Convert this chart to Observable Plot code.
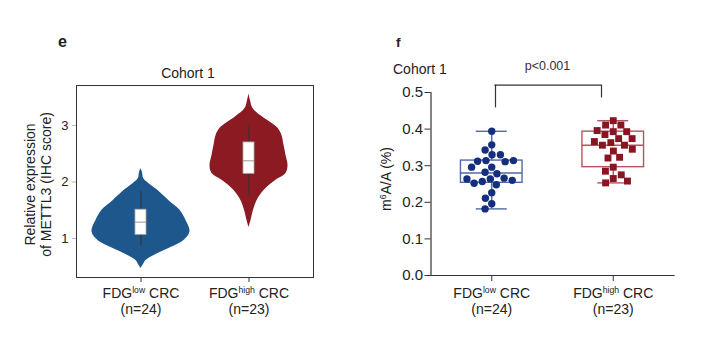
<!DOCTYPE html>
<html>
<head>
<meta charset="utf-8">
<script src="https://cdn.jsdelivr.net/npm/d3@7"></script>
<script src="https://cdn.jsdelivr.net/npm/@observablehq/plot@0.6"></script>
<style>
  html, body { margin: 0; padding: 0; background: #fff; }
  #root { position: relative; width: 714px; height: 344px; background: #fff; overflow: hidden;
          font-family: "Liberation Sans", Arial, sans-serif; color: #222; }
  .lbl { position: absolute; white-space: nowrap; }
  .panel { position: absolute; top: 0; }
</style>
</head>
<body>
<div id="root">
  <div id="pe" class="panel" style="left:0px;"></div>
  <div id="pf" class="panel" style="left:357px;"></div>
  <div class="lbl" style="left:58px; top:34px; font-size:16px; line-height:16px; font-weight:bold;">e</div>
  <div class="lbl" style="left:396px; top:36px; font-size:13.5px; line-height:13.5px; font-weight:bold;">f</div>
  <div class="lbl" style="left:138px; width:100px; text-align:center; top:66px; font-size:14px; line-height:14px;">Cohort 1</div>
  <div class="lbl" style="left:393px; top:62px; font-size:14px; line-height:14px;">Cohort 1</div>
</div>
<script>
// ---------- data ----------
const groups = ["low", "high"];
const groupLabels = ["FDG^{low} CRC", "FDG^{high} CRC"];
const groupN = [24, 23];

// Panel e: violin outlines (value, relative density)
const lowViolinValue   = [2.234, 2.17, 2.06, 1.97, 1.85, 1.67, 1.50, 1.32, 1.12, 0.965, 0.84, 0.735, 0.61, 0.54, 0.47];
const lowViolinDensity = [0, 1.5, 2.7, 8, 17, 28, 39, 45, 49, 43, 30, 17, 5, 2.5, 0];
const highViolinValue   = [3.558, 3.44, 3.30, 3.16, 3.05, 2.95, 2.82, 2.65, 2.47, 2.29, 2.15, 2.03, 1.85, 1.67, 1.50, 1.32, 1.195];
const highViolinDensity = [0, 1.5, 4, 13, 22, 29, 33, 35, 37, 39, 37, 27, 15, 8, 4.5, 2, 0];

// Panel e: inner box plot statistics (min, q1, median, q3, max)
const violinMin    = [0.876, 1.76];
const violinQ1     = [1.065, 2.145];
const violinMedian = [1.29, 2.375];
const violinQ3     = [1.51, 2.70];
const violinMax    = [1.83, 3.0];

// Panel f: individual m6A/A (%) values
const lowValues  = [0.394, 0.357, 0.343, 0.330, 0.330, 0.314, 0.311, 0.312, 0.314, 0.296, 0.296, 0.282,
                    0.278, 0.266, 0.264, 0.257, 0.248, 0.252, 0.260, 0.264, 0.226, 0.211, 0.196, 0.182];
const highValues = [0.423, 0.411, 0.411, 0.393, 0.385, 0.393, 0.396, 0.374, 0.374, 0.363, 0.356, 0.356,
                    0.366, 0.340, 0.345, 0.321, 0.323, 0.296, 0.285, 0.265, 0.275, 0.253, 0.258];

const eTicks = [1, 2, 3];
const fTicks = [0, 0.1, 0.2, 0.3, 0.4, 0.5];
const pLabel = "p<0.001";
const eYLabel = "Relative expression\nof METTL3 (IHC score)";
const fYLabel = "m^{6}A/A (%)";

// ---------- helpers ----------
const FONT = "Liberation Sans, Arial, sans-serif";
const labelOf = g => { const i = groups.indexOf(g); return `${groupLabels[i]}\n(n=${groupN[i]})`; };

function quantileGP(sorted, p) { // (n+1)p method
  const n = sorted.length, pos = (n + 1) * p;
  if (pos <= 1) return sorted[0];
  if (pos >= n) return sorted[n - 1];
  const lo = Math.floor(pos), f = pos - lo;
  return sorted[lo - 1] + f * (sorted[lo] - sorted[lo - 1]);
}

function applySup(root) {
  const ns = "http://www.w3.org/2000/svg";
  root.querySelectorAll("text, tspan").forEach(el => {
    if (el.children.length) return;
    const s = el.textContent;
    if (!s.includes("^{")) return;
    const fs = parseFloat(getComputedStyle(el).fontSize) || 14;
    const parts = s.split(/\^\{([^}]*)\}/);
    el.textContent = "";
    parts.forEach((p, i) => {
      if (i % 2 === 0) {
        if (!p) return;
        if (i === 0) el.append(p);
        else { const t = document.createElementNS(ns, "tspan"); t.setAttribute("dy", (0.42 * fs).toFixed(2)); t.textContent = p; el.append(t); }
      } else {
        const t = document.createElementNS(ns, "tspan");
        t.setAttribute("font-size", (0.62 * fs).toFixed(2));
        t.setAttribute("dy", (-0.42 * fs).toFixed(2));
        t.textContent = p; el.append(t);
      }
    });
  });
}

// ---------- panel e ----------
const violinData = [
  ...lowViolinValue.map((v, i) => ({group: "low", value: v, density: lowViolinDensity[i]})),
  ...highViolinValue.map((v, i) => ({group: "high", value: v, density: highViolinDensity[i]}))
];
const violinStats = groups.map((g, i) => ({group: g, min: violinMin[i], q1: violinQ1[i], median: violinMedian[i], q3: violinQ3[i], max: violinMax[i]}));

const ePadOuter = 0.147, eStep = 108; // outer padding in px = 15.9
const eOut = ePadOuter * eStep;

const pe = Plot.plot({
  width: 357, height: 344,
  marginLeft: 76, marginRight: 44, marginTop: 85, marginBottom: 67,
  style: {fontFamily: FONT, fontSize: "13px", color: "#222", background: "transparent", overflow: "visible"},
  fx: {domain: groups, paddingInner: 0.1, paddingOuter: ePadOuter, round: false, label: null},
  x: {domain: [-48.6, 48.6], axis: null},
  y: {domain: [0.31, 3.708], label: null},
  color: {domain: groups, range: ["#1e578c", "#8b1a23"]},
  marks: [
    Plot.areaX(violinData, {fx: "group", y: "value", x1: d => -d.density, x2: "density", fill: "group", curve: "catmull-rom"}),
    Plot.ruleX(violinStats, {fx: "group", x: 0, y1: "min", y2: "max", stroke: "#333", strokeWidth: 1}),
    Plot.rect(violinStats, {fx: "group", x1: -5.5, x2: 5.5, y1: "q1", y2: "q3", fill: "#fff", stroke: "#aaa", strokeWidth: 0.8}),
    Plot.ruleY(violinStats, {fx: "group", y: "median", x1: -5.5, x2: 5.5, stroke: "#999", strokeWidth: 1}),
    Plot.frame({facet: "super", stroke: "#333", strokeWidth: 1, insetLeft: -eOut, insetRight: -eOut}),
    Plot.axisY({ticks: eTicks, tickFormat: "d", tickSize: 4, tickPadding: 4, dx: -eOut, stroke: "#bbb", fill: "#222", fontSize: 13, label: null}),
    Plot.axisFx({anchor: "bottom", tickSize: 5, tickPadding: 5, fontSize: 14, lineHeight: 1.1, tickFormat: labelOf, stroke: "#333", fill: "#222", label: null}),
    Plot.text([eYLabel], {facet: "super", frameAnchor: "left", text: d => d, rotate: -90, dx: -39 - eOut, dy: 3,
      fontSize: 14, lineHeight: 1.15, textAnchor: "middle", lineAnchor: "middle", fill: "#222"})
  ]
});
document.getElementById("pe").append(pe);

// ---------- panel f ----------
const points = [
  ...lowValues.map(v => ({group: "low", value: v})),
  ...highValues.map(v => ({group: "high", value: v}))
];
const boxStats = groups.map(g => {
  const s = points.filter(d => d.group === g).map(d => d.value).sort(d3.ascending);
  return {group: g, min: s[0], q1: quantileGP(s, 0.25), median: quantileGP(s, 0.5), q3: quantileGP(s, 0.75), max: s[s.length - 1]};
});
const dotColor = {low: "#152f7e", high: "#8a1522"};
const boxColor = {low: "#5068ab", high: "#b4545d"};
const symbolOf = {low: "circle", high: "square"};
const radiusOf = {low: 3.7, high: 3.9};

const fMarks = [
  Plot.frame({facet: "super", anchor: "left", stroke: "#333", strokeWidth: 1.2}),
  Plot.frame({facet: "super", anchor: "bottom", stroke: "#333", strokeWidth: 1.2})
];
for (const g of groups) {
  const st = boxStats.filter(d => d.group === g);
  const c = boxColor[g];
  fMarks.push(
    Plot.rect(st, {fx: "group", x1: -30.8, x2: 30.8, y1: "q1", y2: "q3", fill: "none", stroke: c, strokeWidth: 1.4}),
    Plot.ruleY(st, {fx: "group", y: "median", x1: -30.8, x2: 30.8, stroke: c, strokeWidth: 1.4}),
    Plot.ruleX(st, {fx: "group", x: 0, y1: "q3", y2: "max", stroke: c, strokeWidth: 1.4}),
    Plot.ruleX(st, {fx: "group", x: 0, y1: "min", y2: "q1", stroke: c, strokeWidth: 1.4}),
    Plot.ruleY(st, {fx: "group", y: "max", x1: -15.5, x2: 15.5, stroke: c, strokeWidth: 1.4}),
    Plot.ruleY(st, {fx: "group", y: "min", x1: -15.5, x2: 15.5, stroke: c, strokeWidth: 1.4}),
    Plot.dot(points.filter(d => d.group === g), Plot.dodgeX("middle", {
      fx: "group", y: "value", r: radiusOf[g], symbol: symbolOf[g], fill: dotColor[g], stroke: "none", padding: 0.6
    }))
  );
}
fMarks.push(
  Plot.ruleX([{group: "low"}], {fx: "group", x: 3.75, y1: 0.458, y2: 0.52, stroke: "#333", strokeWidth: 1.2}),
  Plot.ruleX([{group: "high"}], {fx: "group", x: -11.75, y1: 0.485, y2: 0.52, stroke: "#333", strokeWidth: 1.2}),
  Plot.ruleY([{group: "low"}], {fx: "group", y: 0.52, x1: 3.15, x2: 110.35, stroke: "#333", strokeWidth: 1.2}),
  Plot.text([{group: "low"}], {fx: "group", x: 55.75, y: 0.572, text: () => pLabel, fontSize: 12.5, fill: "#333", textAnchor: "middle", lineAnchor: "middle"}),
  Plot.axisY({ticks: fTicks, tickFormat: ".1f", tickSize: 6, tickPadding: 2, fontSize: 15, stroke: "#333", fill: "#222", label: null}),
  Plot.axisFx({anchor: "bottom", tickSize: 6, tickPadding: 6, fontSize: 14, lineHeight: 1.1, tickFormat: labelOf, stroke: "#333", fill: "#222", label: null}),
  Plot.text([fYLabel], {facet: "super", frameAnchor: "left", text: d => d, rotate: -90, dx: -44, dy: -5,
    fontSize: 14, textAnchor: "middle", lineAnchor: "middle", fill: "#222"})
);

const pf = Plot.plot({
  width: 357, height: 344,
  marginLeft: 73.5, marginRight: 40.5, marginTop: 92, marginBottom: 69,
  style: {fontFamily: FONT, fontSize: "14px", color: "#222", background: "transparent", overflow: "visible"},
  fx: {domain: groups, paddingInner: 0, paddingOuter: 0, round: false, label: null},
  x: {domain: [-60.75, 60.75], axis: null},
  y: {domain: [0, 0.5], label: null},
  marks: fMarks
});
document.getElementById("pf").append(pf);

applySup(pe);
applySup(pf);
</script>
</body>
</html>
